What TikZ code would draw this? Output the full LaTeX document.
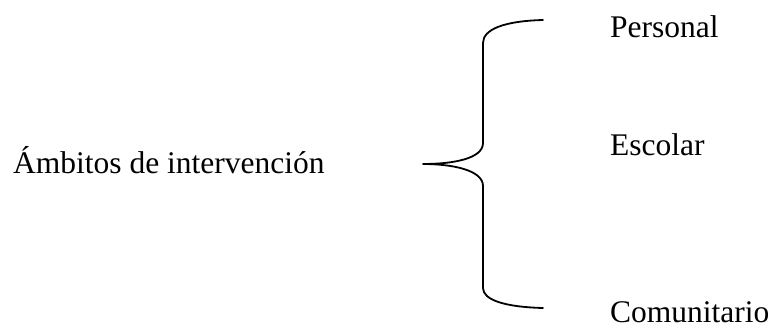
\documentclass[tikz,border=0pt]{standalone}
\usepackage{fontspec}
\setmainfont{Liberation Serif}

\begin{document}
\begin{tikzpicture}[x=1pt,y=-1pt,text=black,
  label/.style={font=\fontsize{31.5}{38}\selectfont,anchor=base west,inner sep=0pt},
  brace/.style={draw=black,line width=1.8pt,line cap=round,line join=round}]
\useasboundingbox (0,0) rectangle (773,327);
\fill[white] (0,0) rectangle (773,327);

% MAIN TERM
\node[label] (ambitos) at (13,173) {Ámbitos de intervención};

% THE THREE AREAS
\node[label] (personal) at (610,37) {Personal};
\node[label] (escolar) at (610,155) {Escolar};
\node[label] (comunitario) at (610,322) {Comunitario};

% BRACE JOINING THEM
\coordinate (tip) at (423,164);
\coordinate (top) at (543,20);
\coordinate (bottom) at (543,308);
\draw[brace] (top) .. controls (505,21) and (483,29) .. (483,43)
  -- (483,143) .. controls (483,159) and (452,164) .. (tip)
  .. controls (452,164) and (483,170) .. (483,186)
  -- (483,288) .. controls (483,300) and (505,307) .. (bottom);
\end{tikzpicture}
\end{document}
